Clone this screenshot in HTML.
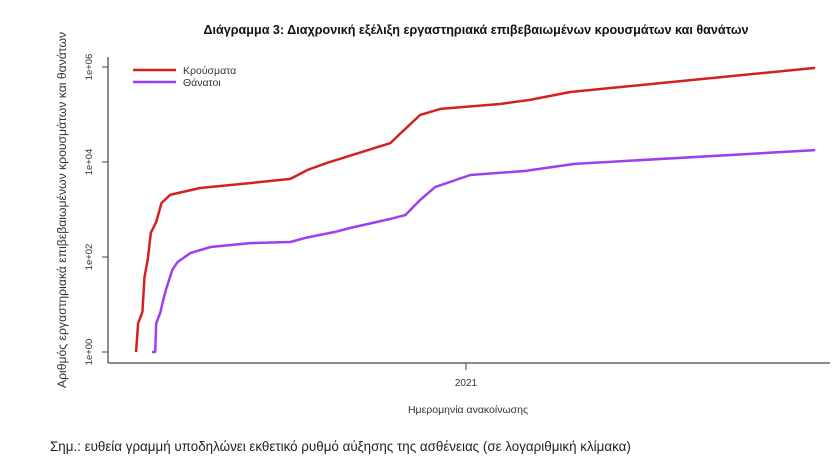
<!DOCTYPE html>
<html><head><meta charset="utf-8">
<style>
body{margin:0;background:#fff;}
svg{display:block;font-family:"Liberation Sans","DejaVu Sans",sans-serif;}
</style></head>
<body>
<svg id="chart" width="840" height="476" viewBox="0 0 840 476" xmlns="http://www.w3.org/2000/svg">
<rect width="840" height="476" fill="#fff"/>
<text x="476" y="34" text-anchor="middle" font-size="12.6" font-weight="bold" fill="#111">Διάγραμμα 3: Διαχρονική εξέλιξη εργαστηριακά επιβεβαιωμένων κρουσμάτων και θανάτων</text>
<text transform="translate(66,210) rotate(-90)" text-anchor="middle" font-size="12.2" fill="#333">Αριθμός εργαστηριακά επιβεβαιωμένων κρουσμάτων και θανάτων</text>
<text x="468" y="413" text-anchor="middle" font-size="10.5" fill="#333">Ημερομηνία ανακοίνωσης</text>
<text x="50" y="451" font-size="13.4" fill="#222">Σημ.: ευθεία γραμμή υποδηλώνει εκθετικό ρυθμό αύξησης της ασθένειας (σε λογαριθμική κλίμακα)</text>
<line x1="108" y1="57" x2="108" y2="363" stroke="#444" stroke-width="1.2"/>
<line x1="108" y1="363" x2="830" y2="363" stroke="#666" stroke-width="1.5"/>
<g id="yticks"></g>
<g id="xticks"></g>
<g id="series"></g>
<g>
<line x1="133" y1="70" x2="176" y2="70" stroke="#d42020" stroke-width="2.5"/>
<text x="183" y="74" font-size="10.5" fill="#333">Κρούσματα</text>
<line x1="133" y1="82" x2="176" y2="82" stroke="#9b3ff0" stroke-width="2.5"/>
<text x="183" y="86" font-size="10.5" fill="#333">Θάνατοι</text>
</g>
</svg>
<script>
const yTickValues=[1,100,10000,1000000];
const yTickLabels=["1e+00","1e+02","1e+04","1e+06"];
const xTickDays=[310];
const xTickLabels=["2021"];
const casesDays=[0,1,2,6,8,11,14,19,24,32,60,107,145,161,179,239,248,267,286,342,370,408,638];
const casesValues=[1,2,4,7,38,87,324,545,1370,2030,2840,3600,4400,6800,9500,25000,39000,98000,131000,166000,203000,297000,955000];
const deathsDays=[15,18,19,23,25,28,34,39,51,70,107,145,159,187,201,239,253,267,281,314,365,412,638];
const deathsValues=[1,1,4,7,11,20,53,78,121,162,196,207,252,337,407,633,764,1590,2960,5330,6450,9100,17800];

const NS="http://www.w3.org/2000/svg";
function xs(d){return 136+d*1.0645;}
function ys(v){return 352-Math.log10(v)*47.5;}
const yt=document.getElementById('yticks');
yTickValues.forEach((v,i)=>{
  const y=ys(v);
  const l=document.createElementNS(NS,'line');
  l.setAttribute('x1',102);l.setAttribute('x2',108);l.setAttribute('y1',y);l.setAttribute('y2',y);
  l.setAttribute('stroke','#444');
  
  
  yt.appendChild(l);
  const t=document.createElementNS(NS,'text');
  t.setAttribute('transform','translate(92,'+y+') rotate(-90)');
  t.setAttribute('text-anchor','middle');t.setAttribute('font-size','9.5');t.setAttribute('fill','#333');
  t.textContent=yTickLabels[i];
  
  
  yt.appendChild(t);
});
const xt=document.getElementById('xticks');
xTickDays.forEach((d,i)=>{
  const x=xs(d);
  const l=document.createElementNS(NS,'line');
  l.setAttribute('x1',x);l.setAttribute('x2',x);l.setAttribute('y1',363);l.setAttribute('y2',370);
  l.setAttribute('stroke','#444');
  
  
  xt.appendChild(l);
  const t=document.createElementNS(NS,'text');
  t.setAttribute('x',x);t.setAttribute('y',386);t.setAttribute('text-anchor','middle');
  t.setAttribute('font-size','10');t.setAttribute('fill','#333');
  t.textContent=xTickLabels[i];
  
  
  xt.appendChild(t);
});
function drawLine(days,vals,color,name){
  const p=document.createElementNS(NS,'path');
  p.setAttribute('d',days.map((d,i)=>(i?'L':'M')+xs(d).toFixed(1)+' '+ys(vals[i]).toFixed(1)).join(' '));
  p.setAttribute('fill','none');p.setAttribute('stroke',color);p.setAttribute('stroke-width','2.5');
  p.setAttribute('stroke-linejoin','round');
  
  
  document.getElementById('series').appendChild(p);
}
drawLine(casesDays,casesValues,'#d42020','cases-line');
drawLine(deathsDays,deathsValues,'#9b3ff0','deaths-line');
</script>
</body></html>
